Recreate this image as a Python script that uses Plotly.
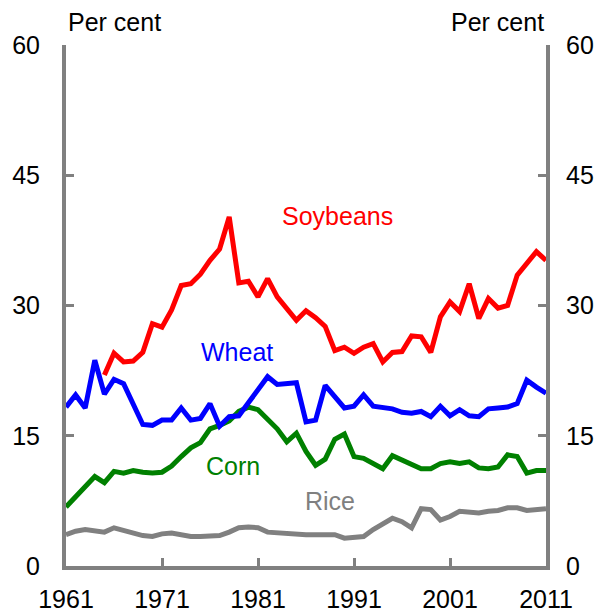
import plotly.graph_objects as go

years = list(range(1961, 2012))

wheat = [18.3, 19.7, 18.2, 23.7, 19.8, 21.5, 21.0, 18.5, 16.3, 16.2,
         16.8, 16.8, 18.2, 16.8, 17.0, 18.7, 16.1, 17.2, 17.3, 18.8,
         20.3, 21.8, 20.9, 21.0, 21.1, 16.6, 16.8, 20.8, 19.4, 18.2,
         18.4, 19.7, 18.4, 18.3, 18.1, 17.7, 17.6, 17.8, 17.2, 18.4,
         17.3, 18.0, 17.3, 17.2, 18.1, 18.2, 18.3, 18.7, 21.4, 20.6,
         19.9]

soy_years = list(range(1965, 2012))
soybeans = [22.0, 24.5, 23.5, 23.6, 24.6, 27.9, 27.5, 29.5, 32.3, 32.5,
            33.6, 35.2, 36.5, 40.2, 32.6, 32.8, 31.0, 33.1, 31.0, 29.6,
            28.3, 29.4, 28.6, 27.6, 24.8, 25.2, 24.5, 25.2, 25.6, 23.5,
            24.6, 24.7, 26.5, 26.4, 24.6, 28.7, 30.4, 29.3, 32.5, 28.5,
            30.8, 29.7, 30.0, 33.5, 34.8, 36.2, 35.2]

corn = [6.8, 8.0, 9.3, 10.3, 9.6, 10.9, 10.7, 11.0, 10.8, 10.7,
        10.8, 11.5, 12.6, 13.6, 14.2, 15.8, 16.2, 16.7, 17.8, 18.3,
        18.0, 16.9, 15.8, 14.3, 15.3, 13.2, 11.6, 12.3, 14.6, 15.2,
        12.6, 12.4, 11.8, 11.2, 12.7, 12.2, 11.6, 11.2, 11.2, 11.8,
        12.0, 11.8, 12.0, 11.3, 11.2, 11.4, 12.8, 12.6, 10.7, 11.0,
        11.0]

rice = [3.6, 4.0, 4.2, 4.1, 3.9, 4.4, 4.1, 3.8, 3.5, 3.4,
        3.7, 3.8, 3.6, 3.4, 3.4, 3.4, 3.5, 3.9, 4.4, 4.5,
        4.4, 3.9, 3.8, 3.8, 3.7, 3.6, 3.6, 3.6, 3.6, 3.2,
        3.3, 3.4, 4.2, 4.9, 5.5, 5.1, 4.4, 6.6, 6.5, 5.3,
        5.7, 6.3, 6.2, 6.1, 6.3, 6.4, 6.7, 6.7, 6.4, 6.5,
        6.6]

x_ticks = [1961, 1971, 1981, 1991, 2001, 2011]
y_ticks = [0, 15, 30, 45, 60]

series = [
    ("Rice", years, rice, "#808080", 1988.5, 7.5),
    ("Corn", years, corn, "#008000", 1978.4, 11.5),
    ("Wheat", years, wheat, "#0000FF", 1978.8, 24.6),
    ("Soybeans", soy_years, soybeans, "#FF0000", 1989.3, 40.3),
]

FONT = "Liberation Sans, Arial, sans-serif"
GREY = "#808080"

fig = go.Figure()
for name, xs, ys, col, lx, ly in series:
    fig.add_trace(go.Scatter(x=xs, y=ys, mode="lines", name=name,
                             line=dict(color=col, width=5),
                             showlegend=False, hoverinfo="skip"))
    fig.add_annotation(x=lx, y=ly, text=name, showarrow=False,
                       font=dict(family=FONT, size=25, color=col),
                       xanchor="center", yanchor="middle")

# invisible trace to activate the right-hand axis
fig.add_trace(go.Scatter(x=[years[0]], y=[0], yaxis="y2", mode="markers",
                         marker=dict(opacity=0), showlegend=False,
                         hoverinfo="skip"))

axis_common = dict(showgrid=False, zeroline=False, showline=True,
                   linecolor=GREY, linewidth=4, ticks="inside",
                   tickcolor=GREY, tickwidth=3, ticklen=8,
                   automargin=False,
                   tickfont=dict(family=FONT, size=25, color="black"))

# the page body has an 8px margin, so the figure is sized to fit the window
fig.update_layout(
    width=600, height=604,
    margin=dict(l=58, r=62, t=37, b=46, autoexpand=False),
    plot_bgcolor="white", paper_bgcolor="white",
    xaxis=dict(range=[1961, 2011], tickvals=x_ticks,
               ticktext=[str(v) for v in x_ticks],
               ticklabelstandoff=8, **axis_common),
    yaxis=dict(range=[0, 60], tickvals=y_ticks,
               ticktext=[str(v) for v in y_ticks],
               ticklabelstandoff=17, **axis_common),
    yaxis2=dict(range=[0, 60], tickvals=y_ticks,
                ticktext=[str(v) for v in y_ticks],
                overlaying="y", side="right", anchor="x",
                ticklabelstandoff=11, **axis_common),
)

fig.add_annotation(x=0, y=1, xref="paper", yref="paper", yshift=23,
                   text="Per cent", showarrow=False, xanchor="left",
                   yanchor="middle",
                   font=dict(family=FONT, size=25, color="black"))
fig.add_annotation(x=1, y=1, xref="paper", yref="paper", yshift=23,
                   text="Per cent", showarrow=False, xanchor="right",
                   yanchor="middle",
                   font=dict(family=FONT, size=25, color="black"))

fig.write_html("out.html")
